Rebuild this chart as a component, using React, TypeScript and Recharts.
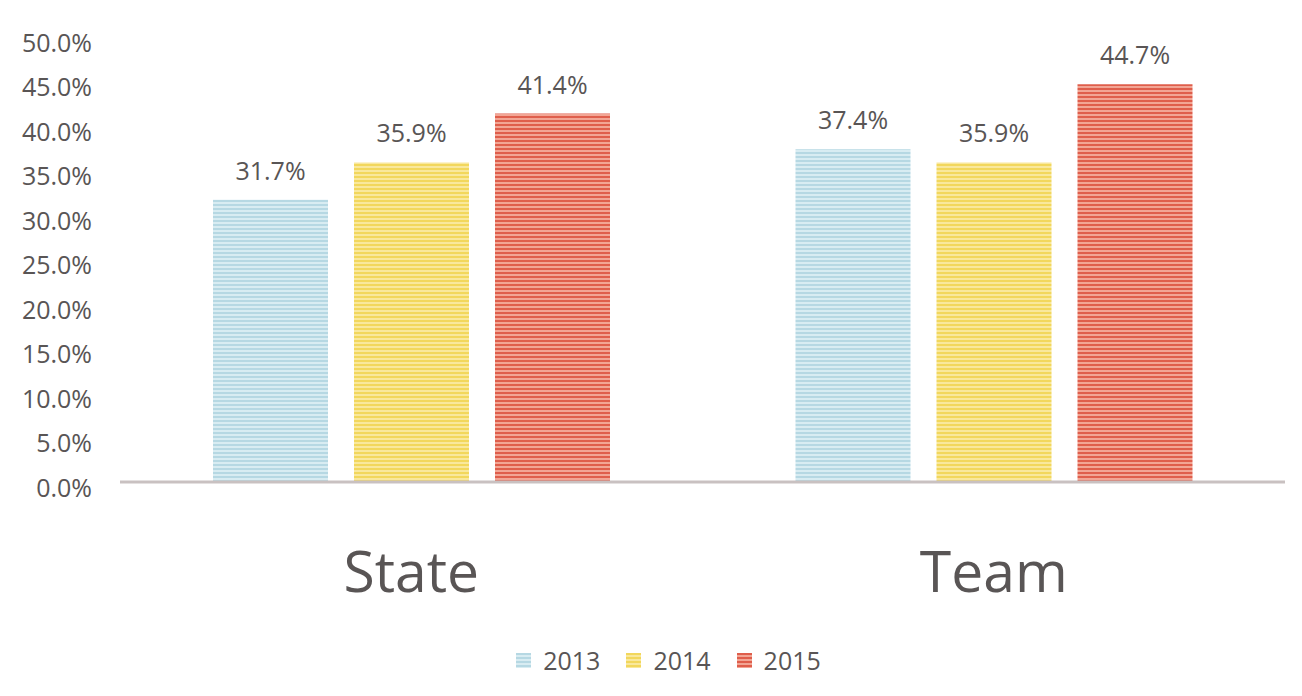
import React from 'react';
import { BarChart, Bar, XAxis, YAxis, Legend, LabelList } from 'recharts';

const categories = ['State', 'Team'];
const years = ['2013', '2014', '2015'];
const values2013 = [31.7, 37.4];
const values2014 = [35.9, 35.9];
const values2015 = [41.4, 44.7];
const yTicks = [0, 5, 10, 15, 20, 25, 30, 35, 40, 45, 50];

const data = categories.map((name, i) => ({
  name,
  y2013: values2013[i],
  y2014: values2014[i],
  y2015: values2015[i],
}));

// light / dark stripe colours per year
const STRIPES: Record<string, [string, string]> = {
  '2013': ['#d8ecf2', '#b6d8e3'],
  '2014': ['#f9e89c', '#f2d75c'],
  '2015': ['#f2a594', '#df5e4b'],
};

const TEXT = '#595555';
const FONT = '"Open Sans", sans-serif';

const pct = (v: any) => `${Number(v).toFixed(1)}%`;

const CategoryTick = ({ x, y, payload }: any) => (
  <text x={x} y={y + 80} textAnchor="middle" dominantBaseline="central" fill={TEXT} fontSize={57} fontFamily={FONT}>
    {payload.value}
  </text>
);

const LegendContent = () => (
  <div style={{ display: 'flex', justifyContent: 'center', alignItems: 'center', gap: 26, paddingLeft: 52, fontFamily: FONT, fontSize: 25, color: TEXT }}>
    {years.map(y => (
      <div key={y} style={{ display: 'flex', alignItems: 'center', gap: 12 }}>
        <svg width={15} height={15}>
          <rect width={15} height={15} fill={`url(#stripe-${y})`} />
        </svg>
        <span>{y}</span>
      </div>
    ))}
  </div>
);

const App = () => {
  return (
    <div style={{ position: 'absolute', left: 0, top: 0, width: 1302, height: 696, background: '#ffffff' }}>
      <BarChart
        width={1302}
        height={696}
        data={data}
        margin={{ top: 37, right: 17, left: 0, bottom: 9 }}
        barSize={115}
        barGap={26}
      >
        <defs>
          {years.map(y => (
            <pattern key={y} id={`stripe-${y}`} patternUnits="userSpaceOnUse" width={4} height={4}>
              <rect width={4} height={4} fill={STRIPES[y][0]} />
              <rect width={4} height={2} fill={STRIPES[y][1]} />
            </pattern>
          ))}
        </defs>
        <XAxis
          dataKey="name"
          height={161}
          axisLine={{ stroke: '#c9c1c1', strokeWidth: 3 }}
          tickLine={false}
          tick={<CategoryTick />}
        />
        <YAxis
          width={120}
          domain={[0, 50]}
          ticks={yTicks}
          tickFormatter={pct}
          axisLine={false}
          tickLine={false}
          tickMargin={22}
          tick={{ fill: TEXT, fontSize: 25, fontFamily: FONT, dy: 6 }}
        />
        <Legend verticalAlign="bottom" height={44} content={<LegendContent />} />
        {years.map(y => (
          <Bar key={y} dataKey={`y${y}`} name={y} fill={`url(#stripe-${y})`} isAnimationActive={false}>
            <LabelList dataKey={`y${y}`} position="top" offset={20} formatter={pct} fill={TEXT} fontSize={25} fontFamily={FONT} />
          </Bar>
        ))}
      </BarChart>
    </div>
  );
};

export default App;
